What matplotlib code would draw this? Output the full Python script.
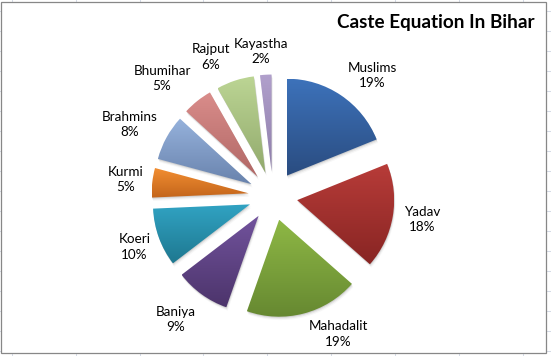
import matplotlib
matplotlib.use('Agg')
import matplotlib.pyplot as plt
import numpy as np
from matplotlib.patches import Rectangle, Wedge
from matplotlib.colors import to_rgb

# ---- data ----
categories = ["Muslims", "Yadav", "Mahadalit", "Baniya", "Koeri",
              "Kurmi", "Brahmins", "Bhumihar", "Rajput", "Kayastha"]
shares = [18.9, 17.6, 18.9, 9.2, 9.7, 4.9, 7.6, 5.0, 6.3, 1.9]
title = "Caste Equation In Bihar"

# ---- style ----
top_colors = ["#3D72BA", "#B83C39", "#8EB845", "#72539D", "#31A3C3",
              "#F28E32", "#96B2DC", "#DA8D8B", "#BCD594", "#B1A0CC"]
bottom_colors = ["#2A4C80", "#882523", "#668831", "#4C346B", "#1E7890",
                 "#C3651B", "#6983AD", "#B06765", "#92AA6D", "#8D7DA9"]
# label offsets (px, right / down) from each exploded wedge's centre
label_offsets = [(85.3, -100.0), (124.9, 19.6), (58.8, 114.5), (-82.8, 103.9),
                 (-115.5, 42.8), (-123.2, -13.8), (-121.5, -59.9),
                 (-95.7, -98.5), (-54.4, -115.7), (-10.5, -119.8)]

W, H = 551, 356
fig = plt.figure(figsize=(W / 100, H / 100), dpi=100)
ax = fig.add_axes([0, 0, 1, 1])

# spreadsheet grid behind the chart
grid_c = "#D5DBE6"
for k in range(9):
    ax.axvline(11.7 + 63.9 * k, color=grid_c, lw=0.75, zorder=0)
for k in range(18):
    ax.axhline(H - (10.7 + 20 * k), color=grid_c, lw=0.75, zorder=0)
ax.add_patch(Rectangle((0.5, H - 352.7), 545.5, 350.4, facecolor="white",
                       edgecolor="#878787", lw=0.9, zorder=0.5))

total = sum(shares)
labels = [f"{c}\n{round(v / total * 100):.0f}%" for c, v in zip(categories, shares)]

R = 97
EXP = 24.5
CENTER = (273, H - 196)

wedges, texts = ax.pie(shares, labels=labels, explode=[EXP] * len(shares),
                       radius=R, center=CENTER, startangle=90, counterclock=False,
                       labeldistance=1.3,
                       textprops=dict(fontsize=9.7, family="Lato", color="black",
                                      ha="center", va="center",
                                      multialignment="center", linespacing=1.35),
                       wedgeprops=dict(linewidth=0))

n = 256
t = np.linspace(0, 1, n)[:, None]
for w, ct, cb in zip(wedges, top_colors, bottom_colors):
    # soft shadow
    for off, a in [(1.0, 0.10), (2.2, 0.06), (3.4, 0.03)]:
        ax.add_patch(Wedge((w.center[0] + off * 0.4, w.center[1] - off), w.r,
                           w.theta1, w.theta2, facecolor="black", alpha=a,
                           lw=0, zorder=1.5))
    bb = w.get_path().get_extents()
    c0 = np.array(to_rgb(cb))
    c1 = np.array(to_rgb(ct))
    img = (c0[None, :] * (1 - t) + c1[None, :] * t)[:, None, :]
    im = ax.imshow(img, extent=[bb.x0, bb.x1, bb.y0, bb.y1], origin="lower",
                   aspect="auto", interpolation="bilinear", zorder=2)
    im.set_clip_path(w)
    w.set_facecolor("none")

for w, tx, (dx, dy) in zip(wedges, texts, label_offsets):
    tx.set_position((w.center[0] + dx, w.center[1] - dy))
    tx.set_zorder(5)

ax.set_xlim(0, W)
ax.set_ylim(0, H)
ax.set_aspect("auto")
ax.axis("off")

ax.text(534.5, H - 28.3, title, ha="right", va="baseline", fontsize=13.6,
        fontweight="bold", family="Lato", color="black")

fig.savefig("out.png", dpi=100)
